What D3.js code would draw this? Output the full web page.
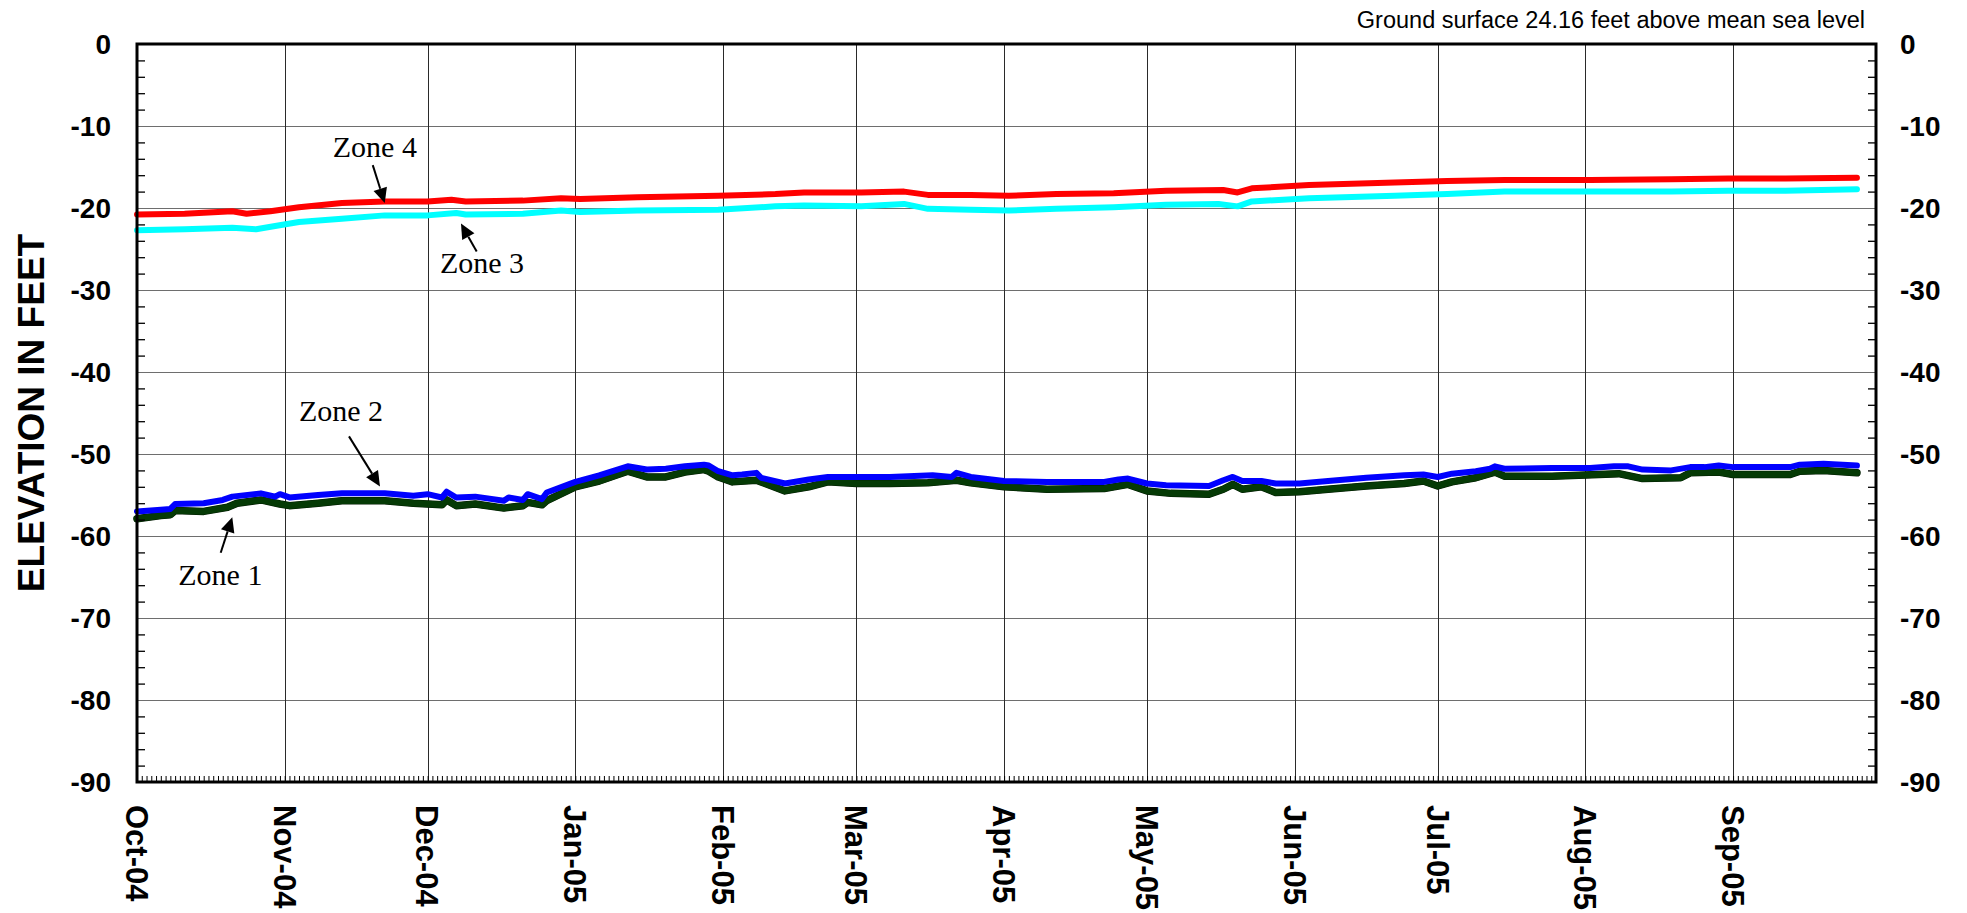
<!DOCTYPE html>
<html>
<head>
<meta charset="utf-8">
<script src="https://cdn.jsdelivr.net/npm/d3@7"></script>
<style>
  body { margin: 0; background: #fff; }
  svg { display: block; }
</style>
</head>
<body>
<svg id="chart" width="1967" height="913"></svg>
<script>
// ---- Water-level readings (feet relative to mean sea level) ----
const zone1Dates = ["2004-10-01","2004-10-06","2004-10-08","2004-10-09","2004-10-15","2004-10-20","2004-10-22","2004-10-27","2004-10-31","2004-11-02","2004-11-08","2004-11-13","2004-11-22","2004-11-28","2004-12-01","2004-12-04","2004-12-05","2004-12-07","2004-12-11","2004-12-17","2004-12-21","2004-12-22","2004-12-25","2004-12-26","2005-01-01","2005-01-06","2005-01-12","2005-01-16","2005-01-20","2005-01-24","2005-01-28","2005-01-29","2005-01-31","2005-02-03","2005-02-08","2005-02-14","2005-02-19","2005-02-23","2005-03-01","2005-03-08","2005-03-16","2005-03-22","2005-03-25","2005-04-01","2005-04-10","2005-04-22","2005-04-27","2005-05-01","2005-05-06","2005-05-14","2005-05-17","2005-05-19","2005-05-21","2005-05-25","2005-05-28","2005-06-02","2005-06-08","2005-06-16","2005-06-24","2005-06-28","2005-07-01","2005-07-04","2005-07-09","2005-07-13","2005-07-15","2005-07-25","2005-08-08","2005-08-13","2005-08-21","2005-08-23","2005-08-29","2005-09-01","2005-09-13","2005-09-15","2005-09-20","2005-09-27"];
const zone1Values = [-57.9,-57.5,-57.4,-56.9,-57.0,-56.5,-56.0,-55.6,-56.1,-56.3,-56.0,-55.7,-55.7,-56.0,-56.1,-56.2,-55.6,-56.3,-56.1,-56.6,-56.3,-55.9,-56.2,-55.7,-54.0,-53.3,-52.1,-52.8,-52.8,-52.2,-51.9,-52.1,-52.8,-53.4,-53.2,-54.5,-54.0,-53.4,-53.6,-53.6,-53.5,-53.2,-53.5,-54.0,-54.3,-54.2,-53.7,-54.5,-54.8,-54.9,-54.3,-53.7,-54.3,-54.0,-54.7,-54.6,-54.3,-53.9,-53.6,-53.3,-53.9,-53.4,-52.9,-52.2,-52.7,-52.7,-52.4,-53.0,-52.9,-52.3,-52.2,-52.5,-52.5,-52.1,-52.0,-52.3];

const zone2Dates = ["2004-10-01","2004-10-06","2004-10-08","2004-10-09","2004-10-15","2004-10-19","2004-10-21","2004-10-27","2004-10-30","2004-10-31","2004-11-02","2004-11-08","2004-11-13","2004-11-22","2004-11-28","2004-12-01","2004-12-04","2004-12-05","2004-12-07","2004-12-11","2004-12-17","2004-12-18","2004-12-21","2004-12-22","2004-12-25","2004-12-26","2005-01-01","2005-01-06","2005-01-12","2005-01-16","2005-01-20","2005-01-24","2005-01-28","2005-01-29","2005-01-31","2005-02-03","2005-02-05","2005-02-08","2005-02-09","2005-02-14","2005-02-19","2005-02-23","2005-03-01","2005-03-08","2005-03-17","2005-03-21","2005-03-22","2005-03-25","2005-04-01","2005-04-10","2005-04-22","2005-04-25","2005-04-27","2005-05-01","2005-05-05","2005-05-14","2005-05-17","2005-05-19","2005-05-21","2005-05-25","2005-05-28","2005-06-02","2005-06-08","2005-06-16","2005-06-24","2005-06-28","2005-07-01","2005-07-04","2005-07-09","2005-07-12","2005-07-13","2005-07-15","2005-07-25","2005-08-02","2005-08-07","2005-08-10","2005-08-13","2005-08-19","2005-08-23","2005-08-26","2005-08-29","2005-09-01","2005-09-13","2005-09-15","2005-09-20","2005-09-27"];
const zone2Values = [-57.0,-56.8,-56.7,-56.1,-56.0,-55.6,-55.2,-54.8,-55.2,-54.9,-55.3,-55.0,-54.8,-54.8,-55.1,-54.9,-55.3,-54.6,-55.3,-55.2,-55.7,-55.3,-55.6,-54.9,-55.5,-54.7,-53.4,-52.6,-51.5,-51.9,-51.8,-51.5,-51.3,-51.4,-52.1,-52.6,-52.5,-52.3,-52.9,-53.6,-53.1,-52.8,-52.8,-52.8,-52.6,-52.8,-52.3,-52.8,-53.3,-53.4,-53.4,-53.1,-53.0,-53.6,-53.8,-53.9,-53.2,-52.8,-53.3,-53.3,-53.6,-53.6,-53.3,-52.9,-52.6,-52.5,-52.8,-52.4,-52.1,-51.8,-51.5,-51.8,-51.7,-51.7,-51.5,-51.5,-51.9,-52.0,-51.6,-51.6,-51.4,-51.6,-51.6,-51.3,-51.2,-51.4];

const zone3Dates = ["2004-10-01","2004-10-11","2004-10-21","2004-10-26","2004-10-30","2004-11-04","2004-11-13","2004-11-22","2004-12-01","2004-12-07","2004-12-09","2004-12-21","2004-12-29","2005-01-02","2005-01-14","2005-01-31","2005-02-12","2005-02-18","2005-03-02","2005-03-11","2005-03-16","2005-03-25","2005-04-02","2005-04-12","2005-04-24","2005-05-05","2005-05-16","2005-05-20","2005-05-23","2005-06-04","2005-06-22","2005-07-03","2005-07-15","2005-08-02","2005-08-19","2005-08-31","2005-09-12","2005-09-27"];
const zone3Values = [-22.7,-22.6,-22.4,-22.6,-22.2,-21.7,-21.3,-20.9,-20.9,-20.6,-20.8,-20.7,-20.3,-20.5,-20.3,-20.2,-19.8,-19.7,-19.8,-19.5,-20.1,-20.2,-20.3,-20.1,-19.9,-19.6,-19.5,-19.8,-19.2,-18.8,-18.5,-18.3,-18.0,-18.0,-18.0,-17.9,-17.9,-17.7];

const zone4Dates = ["2004-10-01","2004-10-11","2004-10-21","2004-10-24","2004-10-29","2004-11-04","2004-11-13","2004-11-22","2004-12-01","2004-12-06","2004-12-09","2004-12-21","2004-12-29","2005-01-02","2005-01-14","2005-01-31","2005-02-12","2005-02-18","2005-03-02","2005-03-11","2005-03-16","2005-03-25","2005-04-02","2005-04-12","2005-04-24","2005-05-05","2005-05-17","2005-05-20","2005-05-23","2005-06-04","2005-06-22","2005-07-03","2005-07-15","2005-08-02","2005-08-19","2005-08-31","2005-09-12","2005-09-27"];
const zone4Values = [-20.8,-20.7,-20.4,-20.7,-20.4,-19.9,-19.4,-19.2,-19.2,-19.0,-19.2,-19.1,-18.8,-18.9,-18.7,-18.5,-18.3,-18.1,-18.1,-18.0,-18.4,-18.4,-18.5,-18.3,-18.2,-17.9,-17.8,-18.1,-17.6,-17.2,-16.9,-16.7,-16.6,-16.6,-16.5,-16.4,-16.4,-16.3];

// ---- Axis ticks and labels ----
const monthTickDates = ["2004-10-01","2004-11-01","2004-12-01","2005-01-01","2005-02-01","2005-03-01","2005-04-01","2005-05-01","2005-06-01","2005-07-01","2005-08-01","2005-09-01"];
const monthLabels = ["Oct-04","Nov-04","Dec-04","Jan-05","Feb-05","Mar-05","Apr-05","May-05","Jun-05","Jul-05","Aug-05","Sep-05"];
const yMajorTicks = [0,-10,-20,-30,-40,-50,-60,-70,-80,-90];
const yTickLabels = ["0","-10","-20","-30","-40","-50","-60","-70","-80","-90"];
const yAxisTitle = "ELEVATION IN FEET";
const chartNote = "Ground surface 24.16 feet above mean sea level";

// ---- Annotation labels, each pointing at a reading on its line ----
const zoneNames = ["Zone 1","Zone 2","Zone 3","Zone 4"];
const zoneAnchorDates = ["2004-10-21","2004-11-21","2004-12-08","2004-11-22"];
const zoneAnchorValues = [-57.7,-53.95,-21.9,-19.4];

// ---- Layout ----
const W = 1967, H = 913;
const L = 137, R = 1876, T = 44, B = 782;
const parse = d3.utcParse("%Y-%m-%d");

const svg = d3.select("#chart");
svg.append("rect").attr("width", W).attr("height", H).attr("fill", "#fff");

const x = d3.scaleUtc()
  .domain([parse("2004-10-01"), parse("2005-10-01")])
  .range([L, R]);
const y = d3.scaleLinear().domain([-90, 0]).range([B, T]);

const sansBold = "'Liberation Sans', Arial, sans-serif";

// Horizontal grid
const gy = svg.append("g").attr("transform", `translate(${L},0)`)
  .call(d3.axisLeft(y).tickValues(yMajorTicks).tickSize(-(R - L)).tickFormat(""));
gy.select(".domain").remove();
gy.selectAll("line").attr("stroke", "#6e6e6e").attr("stroke-width", 1).attr("shape-rendering", "crispEdges");

// Vertical monthly grid
const monthDates = monthTickDates.map(parse);
const gx = svg.append("g").attr("transform", `translate(0,${B})`)
  .call(d3.axisBottom(x).tickValues(monthDates).tickSize(-(B - T)).tickFormat(""));
gx.select(".domain").remove();
gx.selectAll("line").attr("stroke", "#2a2a2a").attr("stroke-width", 1).attr("shape-rendering", "crispEdges");

// Series
const series = [
  { dates: zone1Dates, values: zone1Values, color: "#053a05", width: 6.5, edge: "#021a02" },
  { dates: zone2Dates, values: zone2Values, color: "#0000ff", width: 6 },
  { dates: zone3Dates, values: zone3Values, color: "#00ffff", width: 6 },
  { dates: zone4Dates, values: zone4Values, color: "#ff0000", width: 6 }
];
const line = d3.line().x(d => x(d.date)).y(d => y(d.value)).curve(d3.curveLinear);
series.forEach(s => {
  const pts = s.dates.map((d, i) => ({ date: parse(d), value: s.values[i] }));
  if (s.edge) {
    svg.append("path").datum(pts).attr("d", line)
      .attr("fill", "none").attr("stroke", s.edge).attr("stroke-width", s.width + 1)
      .attr("stroke-linejoin", "round").attr("stroke-linecap", "round");
  }
  svg.append("path").datum(pts).attr("d", line)
    .attr("fill", "none").attr("stroke", s.color).attr("stroke-width", s.width)
    .attr("stroke-linejoin", "round").attr("stroke-linecap", "round");
});

// Minor ticks: every 2 ft on both vertical axes, every day along the bottom
const yMinor = d3.range(-88, 0, 2).filter(v => v % 10 !== 0);
const gl = svg.append("g").attr("transform", `translate(${L},0)`)
  .call(d3.axisLeft(y).tickValues(yMinor).tickSize(-8).tickFormat(""));
gl.select(".domain").remove();
gl.selectAll("line").attr("stroke", "#000").attr("stroke-width", 1.3);
const gr = svg.append("g").attr("transform", `translate(${R},0)`)
  .call(d3.axisRight(y).tickValues(yMinor).tickSize(-8).tickFormat(""));
gr.select(".domain").remove();
gr.selectAll("line").attr("stroke", "#000").attr("stroke-width", 1.3);

const days = d3.utcDay.range(parse("2004-10-02"), parse("2005-10-01"));
const gd = svg.append("g").attr("transform", `translate(0,${B})`)
  .call(d3.axisBottom(x).tickValues(days).tickSize(-6).tickFormat(""));
gd.select(".domain").remove();
gd.selectAll("line").attr("stroke", "#000").attr("stroke-width", 1);

// Frame
svg.append("rect").attr("x", L).attr("y", T).attr("width", R - L).attr("height", B - T)
  .attr("fill", "none").attr("stroke", "#000").attr("stroke-width", 3);

// Y tick labels (left and right)
const ylab = svg.append("g").attr("font-family", sansBold).attr("font-weight", "bold")
  .attr("font-size", 28).attr("fill", "#000");
yMajorTicks.forEach((v, i) => {
  ylab.append("text").attr("x", L - 26).attr("y", y(v)).attr("dy", "0.36em")
    .attr("text-anchor", "end").text(yTickLabels[i]);
  ylab.append("text").attr("x", R + 24).attr("y", y(v)).attr("dy", "0.36em")
    .attr("text-anchor", "start").text(yTickLabels[i]);
});

// X tick labels, rotated to read downward
const xlab = svg.append("g").attr("font-family", sansBold).attr("font-weight", "bold")
  .attr("font-size", 31).attr("fill", "#000");
monthDates.forEach((d, i) => {
  xlab.append("text")
    .attr("transform", `translate(${x(d)},${B + 23}) rotate(90)`)
    .attr("dy", "0.36em")
    .attr("text-anchor", "start")
    .text(monthLabels[i]);
});

// Axis title
svg.append("text")
  .attr("transform", `translate(31,${(T + B) / 2}) rotate(-90)`)
  .attr("text-anchor", "middle").attr("dy", "0.36em")
  .attr("font-family", sansBold).attr("font-weight", "bold").attr("font-size", 37)
  .text(yAxisTitle);

// Note above the plot
svg.append("text")
  .attr("x", 1865).attr("y", 28).attr("text-anchor", "end")
  .attr("font-family", "'Liberation Sans', Arial, sans-serif").attr("font-size", 23.5)
  .text(chartNote);

// Zone call-outs: label text, a leader line, and a solid arrowhead at the reading
const calloutOffsets = [
  { tail: [-11.6, 35.6], text: [-54, 68] },
  { tail: [-31, -50], text: [-81, -65] },
  { tail: [15.7, 28], text: [-21, 49] },
  { tail: [-12, -38], text: [-52, -46] }
];
const ann = svg.append("g");
zoneNames.forEach((name, i) => {
  const tx = x(parse(zoneAnchorDates[i]));
  const ty = y(zoneAnchorValues[i]);
  const o = calloutOffsets[i];
  const sx = tx + o.tail[0], sy = ty + o.tail[1];
  const ang = Math.atan2(ty - sy, tx - sx);
  const headLen = 15, headHalf = 7;
  const bx = tx - headLen * Math.cos(ang), by = ty - headLen * Math.sin(ang);
  ann.append("line").attr("x1", sx).attr("y1", sy).attr("x2", bx).attr("y2", by)
    .attr("stroke", "#000").attr("stroke-width", 2);
  const px = -Math.sin(ang) * headHalf, py = Math.cos(ang) * headHalf;
  ann.append("path")
    .attr("d", `M${tx},${ty}L${bx + px},${by + py}L${bx - px},${by - py}Z`)
    .attr("fill", "#000");
  ann.append("text")
    .attr("x", tx + o.text[0]).attr("y", ty + o.text[1])
    .attr("font-family", "'Liberation Serif', 'Times New Roman', serif")
    .attr("font-size", 30).attr("fill", "#000")
    .text(name);
});
</script>
</body>
</html>
